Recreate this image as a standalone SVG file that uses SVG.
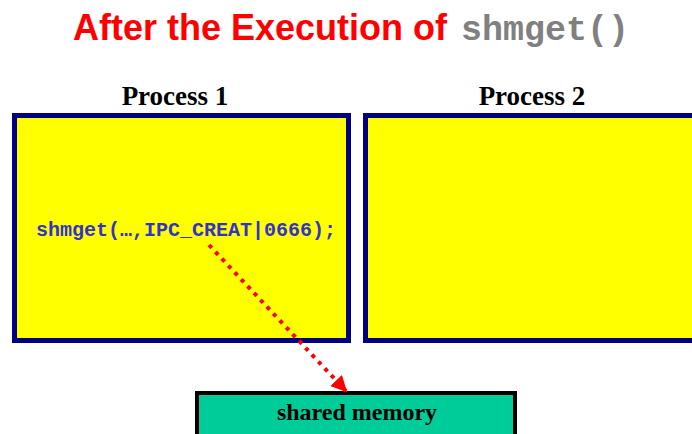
<svg xmlns="http://www.w3.org/2000/svg" width="692" height="434" viewBox="0 0 692 434">
  <style>
    .title { font-family: "Liberation Sans", Arial, sans-serif; font-weight: bold; font-size: 36px; fill: #FF0000; }
    .mono-title { font-family: "Liberation Mono", "Courier New", monospace; font-weight: bold; font-size: 35px; fill: #808080; }
    .label { font-family: "Liberation Serif", "Times New Roman", serif; font-weight: bold; font-size: 27px; fill: #000000; text-anchor: middle; }
    .proc { fill: #FFFF00; stroke: #000080; stroke-width: 5; }
    .mem { fill: #00CC99; stroke: #000000; stroke-width: 4; }
    .code { font-family: "Liberation Mono", "Courier New", monospace; font-weight: bold; font-size: 20px; fill: #3333CC; }
    .memtext { font-family: "Liberation Serif", "Times New Roman", serif; font-weight: bold; font-size: 24px; fill: #000000; text-anchor: middle; }
    .link { stroke: #FF0000; stroke-width: 4; stroke-dasharray: 4 5.4; fill: none; }
  </style>
  <defs>
    <marker id="arrowhead" markerWidth="4" markerHeight="4" refX="3.6" refY="2" orient="auto" markerUnits="strokeWidth">
      <path d="M0,0 L4,2 L0,4 Z" fill="#FF0000"/>
    </marker>
  </defs>
  <rect width="692" height="434" fill="#FFFFFF"/>

  <text x="73" y="40" class="title">After the Execution of <tspan x="461" class="mono-title">shmget()</tspan></text>

  <g id="process1">
    <text x="175" y="105" class="label">Process 1</text>
    <rect x="14.5" y="115.5" width="334" height="225" class="proc"/>
    <text x="36" y="236" class="code">shmget(…,IPC_CREAT|0666);</text>
  </g>

  <g id="process2">
    <text x="532" y="105" class="label">Process 2</text>
    <rect x="365.5" y="115.5" width="340" height="225" class="proc"/>
  </g>

  <g id="shared-memory">
    <rect x="197" y="393" width="318" height="60" class="mem"/>
    <text x="357" y="420" class="memtext">shared memory</text>
  </g>

  <g id="connectors">
    <line x1="209" y1="245" x2="346" y2="391" class="link" marker-end="url(#arrowhead)"/>
  </g>
</svg>
